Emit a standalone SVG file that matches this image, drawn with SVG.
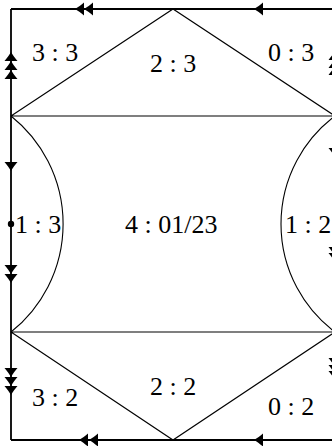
<svg xmlns="http://www.w3.org/2000/svg" width="332" height="446" viewBox="0 0 332 446">
<style>
.o{fill:none;stroke:#000;stroke-width:1.8}
.i{fill:none;stroke:#000;stroke-width:1.1}
.t{font-family:"Liberation Serif","DejaVu Serif",serif;font-size:26px;fill:#000}
</style>
<defs>
<path id="ah" d="M0,0 C-3,-1.6 -6.5,-4.5 -9,-6.5 L-9,6.5 C-6.5,4.5 -3,1.6 0,0 Z" fill="#000"/>
</defs>
<g id="connectors">
<path class="o" d="M11,9 H335 M11,9 V440 M11,440 H335 M335,9 V440"/>
<path class="i" d="M11,116 L173,9 L335,116 M11,116 H335 M11,332 H335 M11,332 L173,440 L335,332"/>
<path class="i" d="M11,116 A138,138 0 0 1 11,332"/>
<path class="i" d="M335,116 A135,135 0 0 0 335,332"/>
<circle cx="11" cy="224" r="3.2" fill="#000"/>
<use href="#ah" transform="translate(75,9) rotate(180)"/>
<use href="#ah" transform="translate(84,9) rotate(180)"/>
<use href="#ah" transform="translate(254,9) rotate(180)"/>
<use href="#ah" transform="translate(79,440) rotate(180)"/>
<use href="#ah" transform="translate(89,440) rotate(180)"/>
<use href="#ah" transform="translate(254,440) rotate(180)"/>
<use href="#ah" transform="translate(11,52) rotate(-90)"/>
<use href="#ah" transform="translate(11,61) rotate(-90)"/>
<use href="#ah" transform="translate(11,70) rotate(-90)"/>
<use href="#ah" transform="translate(11,171) rotate(90)"/>
<use href="#ah" transform="translate(11,274) rotate(90)"/>
<use href="#ah" transform="translate(11,283) rotate(90)"/>
<use href="#ah" transform="translate(11,377) rotate(90)"/>
<use href="#ah" transform="translate(11,386) rotate(90)"/>
<use href="#ah" transform="translate(11,395) rotate(90)"/>
<use href="#ah" transform="translate(335,51) rotate(-90)"/>
<use href="#ah" transform="translate(335,59) rotate(-90)"/>
<use href="#ah" transform="translate(335,66) rotate(-90)"/>
<use href="#ah" transform="translate(335,157) rotate(90)"/>
<use href="#ah" transform="translate(335,256) rotate(90)"/>
<use href="#ah" transform="translate(335,262) rotate(90)"/>
<use href="#ah" transform="translate(335,367) rotate(90)"/>
<use href="#ah" transform="translate(335,374) rotate(90)"/>
<use href="#ah" transform="translate(335,380) rotate(90)"/>
</g>
<g id="n33"><text class="t" x="32" y="61" xml:space="preserve">3 : 3</text></g>
<g id="n23"><text class="t" x="150" y="72" xml:space="preserve">2 : 3</text></g>
<g id="n03"><text class="t" x="268" y="61" xml:space="preserve">0 : 3</text></g>
<g id="n13"><text class="t" x="15" y="233" xml:space="preserve">1 : 3</text></g>
<g id="n4"><text class="t" x="125" y="233" xml:space="preserve">4 : 01/23</text></g>
<g id="n12"><text class="t" x="285" y="233" xml:space="preserve">1 : 2</text></g>
<g id="n32"><text class="t" x="32" y="406" xml:space="preserve">3 : 2</text></g>
<g id="n22"><text class="t" x="150" y="395" xml:space="preserve">2 : 2</text></g>
<g id="n02"><text class="t" x="268" y="415" xml:space="preserve">0 : 2</text></g>
</svg>
